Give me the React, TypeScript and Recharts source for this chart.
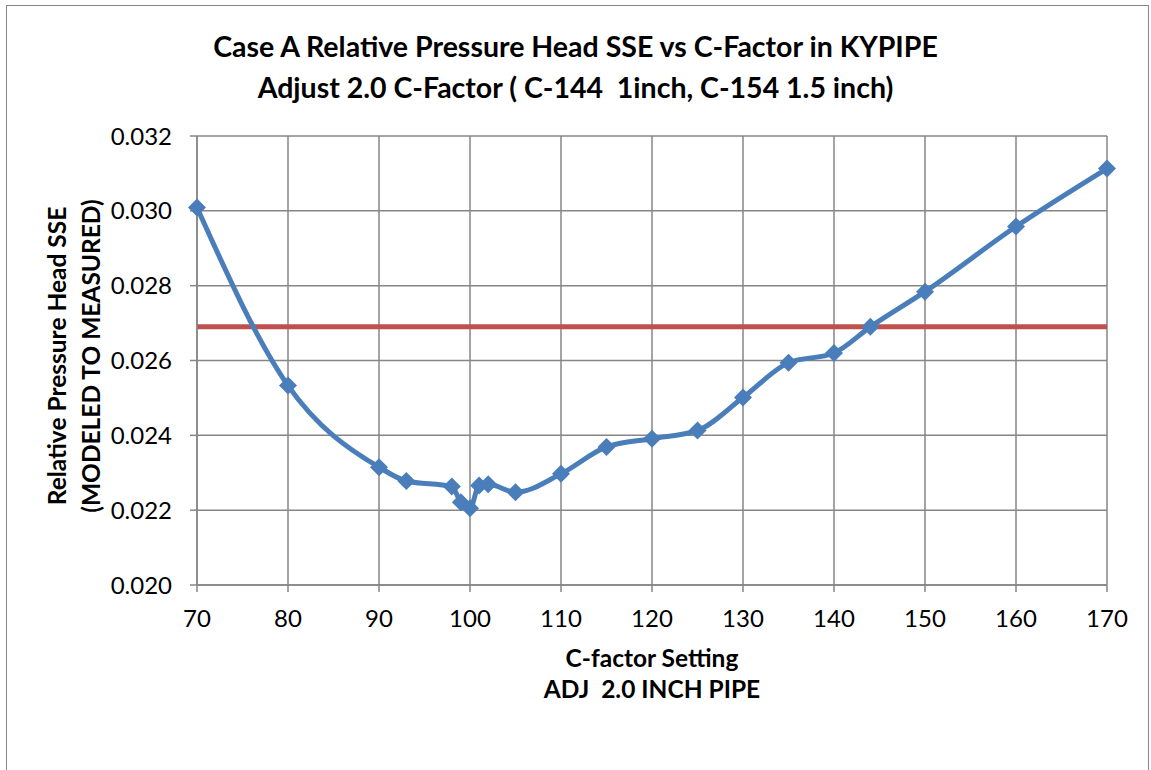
import React from 'react';
import { LineChart, Line, XAxis, YAxis, CartesianGrid, ReferenceLine } from 'recharts';

// C-factor settings (x) and the relative pressure head SSE
const cFactor = [70, 80, 90, 93, 98, 99, 100, 101, 102, 105, 110, 115, 120, 125, 130, 135, 140, 144, 150, 160, 170];
const sse = [
  0.03009, 0.02533, 0.02315, 0.02278, 0.02263, 0.02221, 0.02205, 0.02266, 0.02269, 0.02248,
  0.02297, 0.02369, 0.02391, 0.02413, 0.02501, 0.02594, 0.0262, 0.0269, 0.02784, 0.02958, 0.03113,
];
const threshold = 0.0269;

const xTicks = [70, 80, 90, 100, 110, 120, 130, 140, 150, 160, 170];
const yTicks = [0.02, 0.022, 0.024, 0.026, 0.028, 0.03, 0.032];

const data = cFactor.map((c, i) => ({ c, sse: sse[i] }));

const FONT = 'Lato, Carlito, Calibri, sans-serif';
const GRID = '#868686';
const BLUE = '#4A7EBB';
const RED = '#C0504D';

const Diamond = (props: any) => {
  const { cx, cy, index } = props;
  if (cx == null || cy == null) return <g key={index} />;
  const r = 9;
  return (
    <polygon
      key={index}
      points={`${cx},${cy - r} ${cx + r},${cy} ${cx},${cy + r} ${cx - r},${cy}`}
      fill={BLUE}
    />
  );
};

export default function App() {
  return (
    <div style={{ position: 'absolute', left: 0, top: 0, width: 1151, height: 770, background: '#fff', overflow: 'hidden', fontFamily: FONT }}>
      <div style={{ position: 'absolute', left: 6, top: 5, width: 1141, height: 800, border: `1.5px solid ${GRID}` }} />

      <div style={{ position: 'absolute', left: 0, width: 1151, top: 26, textAlign: 'center', fontWeight: 700, fontSize: 28.5, lineHeight: '41px', color: '#000' }}>
        <div>Case A Relative Pressure Head SSE vs C-Factor in KYPIPE</div>
        <div>Adjust 2.0 C-Factor ( C-144&nbsp; 1inch, C-154 1.5 inch)</div>
      </div>

      <LineChart
        width={1151}
        height={770}
        data={data}
        margin={{ top: 136, right: 44, left: 0, bottom: 155 }}
        style={{ position: 'absolute', left: 0, top: 0 }}
      >
        <CartesianGrid stroke={GRID} strokeWidth={1.5} />
        <XAxis
          dataKey="c"
          type="number"
          domain={[70, 170]}
          ticks={xTicks}
          interval={0}
          height={30}
          stroke={GRID}
          strokeWidth={1.5}
          tickSize={7}
          tickMargin={18}
          tick={{ fill: '#000', fontSize: 24, fontFamily: FONT }}
        />
        <YAxis
          type="number"
          domain={[0.02, 0.032]}
          ticks={yTicks}
          interval={0}
          width={197}
          stroke={GRID}
          strokeWidth={1.5}
          tickSize={7}
          tickMargin={18}
          tickFormatter={(v: number) => v.toFixed(3)}
          tick={{ fill: '#000', fontSize: 24, fontFamily: FONT }}
        />
        <ReferenceLine
          segment={[{ x: 70, y: threshold }, { x: 170, y: threshold }]}
          stroke={RED}
          strokeWidth={5}
        />
        <Line
          dataKey="sse"
          type="monotone"
          stroke={BLUE}
          strokeWidth={5}
          dot={Diamond}
          activeDot={false}
          isAnimationActive={false}
        />
      </LineChart>

      <div style={{ position: 'absolute', left: 197, width: 910, top: 642, textAlign: 'center', fontWeight: 700, fontSize: 24.5, lineHeight: '31px', color: '#000' }}>
        <div>C-factor Setting</div>
        <div style={{ whiteSpace: 'pre' }}>ADJ  2.0 INCH PIPE</div>
      </div>

      <div
        style={{
          position: 'absolute',
          left: 74 - 200,
          top: 356 - 34,
          width: 400,
          height: 68,
          transform: 'rotate(-90deg)',
          textAlign: 'center',
          fontWeight: 700,
          fontSize: 24.5,
          lineHeight: '34px',
          color: '#000',
        }}
      >
        <div>Relative Pressure Head SSE</div>
        <div>(MODELED TO MEASURED)</div>
      </div>
    </div>
  );
}
